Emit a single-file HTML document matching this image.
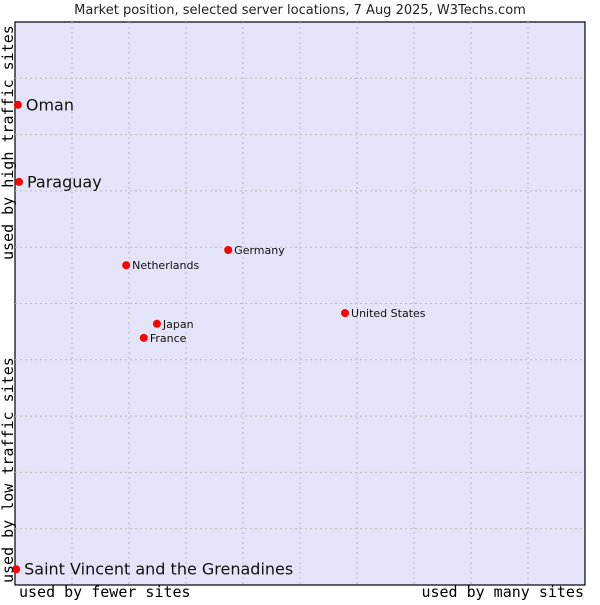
<!DOCTYPE html>
<html><head><meta charset="utf-8"><style>
body{margin:0;background:#fff;width:600px;height:600px;overflow:hidden}
svg{font-family:"DejaVu Sans","Liberation Sans",sans-serif}
</style></head><body>
<svg id="c" width="600" height="600">
<text x="300" y="14" text-anchor="middle" font-size="13" fill="#222">Market position, selected server locations, 7 Aug 2025, W3Techs.com</text>
<rect x="15" y="22" width="570" height="563" fill="#e4e4f8" stroke="#000" stroke-width="1.2"/>
<g id="grid"></g>
<g id="pts"></g>
<text x="19" y="597" font-family="DejaVu Sans Mono,Liberation Mono,monospace" font-size="15" fill="#000">used by fewer sites</text>
<text x="584" y="597" text-anchor="end" font-family="DejaVu Sans Mono,Liberation Mono,monospace" font-size="15" fill="#000">used by many sites</text>
<text transform="translate(13,260) rotate(-90)" font-family="DejaVu Sans Mono,Liberation Mono,monospace" font-size="15" fill="#000">used by high traffic sites</text>
<text transform="translate(13,583) rotate(-90)" font-family="DejaVu Sans Mono,Liberation Mono,monospace" font-size="15" fill="#000">used by low traffic sites</text>
</svg>
<script>
const names=["Oman","Paraguay","Netherlands","Germany","United States","Japan","France","Saint Vincent and the Grenadines"];
const xs=[0.5,0.7,19.5,37.4,57.9,24.9,22.6,0.2];
const ys=[85.3,71.6,56.8,59.5,48.3,46.4,43.9,2.8];
const big=[true,true,false,false,false,false,false,true];
const X0=15,W=570,Y0=585,H=563;
const sx=v=>X0+v/100*W, sy=v=>Y0-v/100*H;
const NS="http://www.w3.org/2000/svg";
const g=document.getElementById('grid');
for(let i=1;i<10;i++){
 const l=document.createElementNS(NS,'line');
 l.setAttribute('x1',sx(i*10));l.setAttribute('x2',sx(i*10));l.setAttribute('y1',22);l.setAttribute('y2',585);
 l.setAttribute('stroke','#bbb');l.setAttribute('stroke-dasharray','2,3');
 
 
 g.appendChild(l);
 const m=document.createElementNS(NS,'line');
 m.setAttribute('y1',sy(i*10));m.setAttribute('y2',sy(i*10));m.setAttribute('x1',15);m.setAttribute('x2',585);
 m.setAttribute('stroke','#bbb');m.setAttribute('stroke-dasharray','2,3');
 
 
 g.appendChild(m);
}
const p=document.getElementById('pts');
names.forEach((n,i)=>{
 const x=sx(xs[i]),y=sy(ys[i]);
 const c=document.createElementNS(NS,'circle');
 c.setAttribute('cx',x);c.setAttribute('cy',y);c.setAttribute('r',4);c.setAttribute('fill','#f00');
 
 
 p.appendChild(c);
 const t=document.createElementNS(NS,'text');
 t.setAttribute('x',x+(big[i]?8:6));t.setAttribute('y',y+(big[i]?5.5:4));
 t.setAttribute('font-size',big[i]?16:11);t.setAttribute('fill','#111');
 t.textContent=n;
 
 
 p.appendChild(t);
});
</script>
</body></html>
